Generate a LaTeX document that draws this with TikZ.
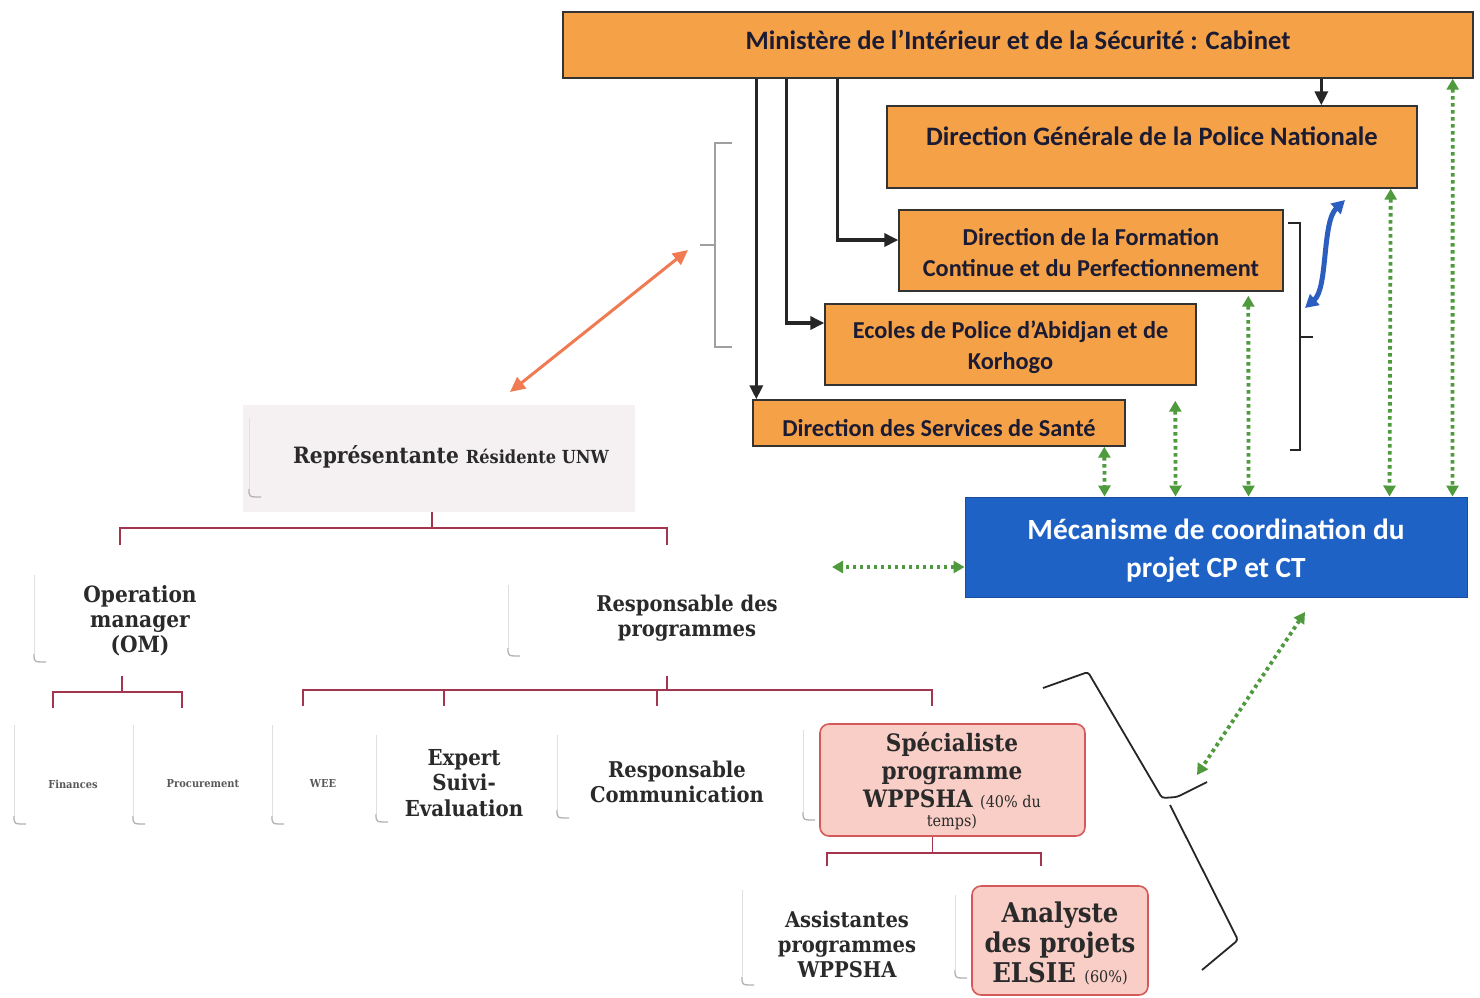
\documentclass[tikz,border=0pt]{standalone}
\usepackage{fontspec}
\setmainfont{Carlito}
\newfontfamily\cam{DejaVu Serif Condensed}[BoldFont={DejaVu Serif Condensed Bold}]
\usetikzlibrary{arrows.meta,calc}
\definecolor{orng}{HTML}{F5A147}
\definecolor{ink}{HTML}{1B1B33}
\definecolor{blu}{HTML}{1F62C6}
\definecolor{grn}{HTML}{4F9A3C}
\definecolor{marc}{HTML}{A3364F}
\definecolor{pinkf}{HTML}{F8CEC6}
\definecolor{pinkd}{HTML}{D4595A}
\definecolor{coral}{HTML}{F07A52}
\definecolor{arw}{HTML}{2C5EBF}
\definecolor{repf}{HTML}{F5F1F3}
\definecolor{sink}{HTML}{2A2A2A}
\newcommand{\pcurl}[3]{%
  \draw[gray!25,line width=0.8pt] (#1,#2) -- (#1,#3-8);
  \draw[gray!60,line width=1.3pt] (#1,#3-8) .. controls (#1,#3) .. (#1+12,#3);}
\begin{document}
\begin{tikzpicture}[x=1pt,y=-1pt,
  obox/.style={draw=black!80,line width=1.4pt,fill=orng,inner sep=0},
  otext/.style={text=ink,font=\bfseries\fontsize{24.3}{31}\selectfont,align=center,inner sep=0},
  bbox/.style={draw=blu!80!black,line width=1pt,fill=blu,inner sep=0},
  pbox/.style={draw=pinkd,line width=1.6pt,fill=pinkf,rounded corners=9pt,inner sep=0},
  stext/.style={text=sink,font=\cam\bfseries\fontsize{21.7}{25}\selectfont,align=center,inner sep=0},
  smalltext/.style={text=black!65,font=\cam\bfseries\fontsize{11}{13}\selectfont,inner sep=0},
  blk/.style={line width=3.4pt,draw=black!85,-{Triangle[length=14pt,width=13pt]}},
  grnarr/.style={draw=grn,line width=3.8pt,dash pattern=on 3.5pt off 3.5pt,
     {Triangle[length=11pt,width=12pt]}-{Triangle[length=11pt,width=12pt]}},
  marl/.style={draw=marc,line width=1.5pt},
]
\useasboundingbox (0,0) rectangle (1480,997);
\fill[white] (0,0) rectangle (1480,997);

% ---------- orange / blue boxes ----------
\node[obox,minimum width=910pt,minimum height=66pt] (min) at (1018,45) {};
\node[otext,font=\bfseries\fontsize{26.6}{30}\selectfont] (mint) at (1018,40) {Ministère de l’Intérieur et de la Sécurité : Cabinet};
\node[obox,minimum width=530pt,minimum height=82pt] (dgpn) at (1152,147) {};
\node[otext,font=\bfseries\fontsize{26.6}{30}\selectfont] (dgpnt) at (1152,136) {Direction Générale de la Police Nationale};
\node[obox,minimum width=384pt,minimum height=81pt] (dfcp) at (1091,250.5) {};
\node[otext] (dfcpt) at (1091,253) {Direction de la Formation\\Continue et du Perfectionnement};
\node[obox,minimum width=371pt,minimum height=81pt] (eco) at (1010.5,344.5) {};
\node[otext] (ecot) at (1010.5,347) {Ecoles de Police d’Abidjan et de\\Korhogo};
\node[obox,minimum width=372pt,minimum height=46pt] (dss) at (939,423) {};
\node[otext] (dsst) at (939,428) {Direction des Services de Santé};
\node[bbox,minimum width=502pt,minimum height=100pt] (meca) at (1216,547) {};
\node[text=white,font=\bfseries\fontsize{29.3}{38}\selectfont,align=center,inner sep=0] (mecat) at (1216,551) {Mécanisme de coordination du\\projet CP et CT};

% ---------- black arrows ----------
\draw[blk] ([xshift=194pt]min.south west) -- ([xshift=4pt]dss.north west);
\draw[blk] ([xshift=224pt]min.south west) |- ([yshift=21.5pt]eco.west);
\draw[blk] ([xshift=275pt]min.south west) |- ([yshift=10.5pt]dfcp.west);
\draw[blk] ([xshift=759pt]min.south west) -- ([xshift=435pt]dgpn.north west);

% ---------- green dotted arrows ----------
\draw[grnarr] ([xshift=-21pt]min.south east) -- ([xshift=-15pt]meca.north east);
\draw[grnarr] ([xshift=-27pt]dgpn.south east) -- ([xshift=425pt]meca.north west);
\draw[grnarr] ([xshift=350pt,yshift=-4pt]dfcp.south west) -- ([xshift=284pt]meca.north west);
\draw[grnarr] ([xshift=351pt,yshift=-15pt]eco.south west) -- ([xshift=211pt]meca.north west);
\draw[grnarr] ([xshift=352pt]dss.south west) -- ([xshift=140pt]meca.north west);
\coordinate (gl) at (832,567);
\draw[grnarr] ([yshift=-20pt]meca.west) -- (gl);
\coordinate (gd1) at (1305,612);
\coordinate (gd2) at (1197,775);
\draw[grnarr] (gd1) -- (gd2);

% ---------- blue curved arrow ----------
\coordinate (bl1) at (1345,200);
\coordinate (bl2) at (1305,308);
\draw[line width=5pt,draw=arw,{Triangle[length=13pt,width=14pt]}-{Triangle[length=13pt,width=14pt]}]
  (bl1) .. controls (1322,222) and (1328,288) .. (bl2);

% ---------- orange arrow ----------
\coordinate (o1) at (688,250);
\coordinate (o2) at (510,392);
\draw[line width=3pt,draw=coral,{Triangle[length=15pt,width=14pt]}-{Triangle[length=15pt,width=14pt]}] (o1) -- (o2);

% ---------- brackets ----------
\draw[gray!75,line width=1.2pt] (732,143) -- (715,143) -- (715,347) -- (732,347);
\draw[gray!75,line width=1.4pt] (700,245) -- (715,245);
\draw[black!85,line width=1.5pt] (1288,223) -- (1300,223) -- (1300,450) -- (1290,450);
\draw[black!85,line width=1.5pt] (1300,337) -- (1313,337);
\draw[black!85,line width=1.8pt,rounded corners=3pt] (1043,688) -- (1088,672) -- (1162,798) -- (1177,797) -- (1207,782);
\draw[black!85,line width=1.8pt,rounded corners=3pt] (1170,805) -- (1238,940) -- (1202,970);

% ---------- org chart ----------
\node[fill=repf,minimum width=392pt,minimum height=107pt,inner sep=0] (rep) at (439,458.5) {};
\pcurl{249}{418}{497}
\node[stext,font=\cam\bfseries\fontsize{22.5}{25}\selectfont] (rept) at (451,457) {Représentante {\fontsize{18}{20}\selectfont Résidente UNW}};

\pcurl{34}{575}{662}
\node[stext,font=\cam\bfseries\fontsize{22.4}{25}\selectfont] (om) at (140,621) {Operation\\manager\\(OM)};
\pcurl{508}{585}{656}
\node[stext] (rp) at (687,618.5) {Responsable des\\programmes};

\coordinate (omtop) at (120,545);
\coordinate (rptop) at (667,545);
\draw[marl] ([xshift=-7pt]rep.south) -- ++(0,16) coordinate (j1);
\draw[marl] (omtop) |- (j1) -| (rptop);

\coordinate (omb) at (122,676);
\draw[marl] (omb) -- ++(0,16) coordinate (j2);
\coordinate (fintop) at (53,708);
\coordinate (proctop) at (182,708);
\draw[marl] (fintop) |- (j2) -| (proctop);

\coordinate (rpb) at (667,676);
\draw[marl] (rpb) -- ++(0,14) coordinate (j3);
\coordinate (weetop) at (303,706);
\coordinate (exptop) at (444,706);
\coordinate (rctop) at (657,706);
\coordinate (sptop) at (932,706);
\draw[marl] (weetop) |- (j3) -| (sptop);
\draw[marl] (exptop) -- (exptop |- j3);
\draw[marl] (rctop) -- (rctop |- j3);

\pcurl{14}{725}{824}
\node[smalltext] (fin) at (73,784) {Finances};
\pcurl{133}{725}{824}
\node[smalltext] (proc) at (203,784) {Procurement};
\pcurl{272}{725}{824}
\node[smalltext] (wee) at (323,783) {WEE};
\pcurl{376}{735}{822}
\node[stext,font=\cam\bfseries\fontsize{22}{25.5}\selectfont] (exp) at (464,783) {Expert\\Suivi-\\Evaluation};
\pcurl{557}{735}{818}
\node[stext] (rcom) at (677,782) {Responsable\\Communication};

\pcurl{803}{730}{820}
\node[pbox,minimum width=265pt,minimum height=112pt] (spec) at (952.5,780) {};
\node[stext,font=\cam\bfseries\fontsize{24}{28}\selectfont] (spect) at (952,771) {Spécialiste\\programme\\WPPSHA {\mdseries\fontsize{16}{18}\selectfont (40\% du}};
\node[stext,font=\cam\mdseries\fontsize{16}{18}\selectfont] (spect2) at (952,822) {temps)};

\draw[marl] ([xshift=-20pt]spec.south) -- ++(0,16) coordinate (j4);
\coordinate (asttop) at (827,866);
\coordinate (anatop) at (1041,866);
\draw[marl] (asttop) |- (j4) -| (anatop);

\pcurl{742}{890}{985}
\node[stext] (asst) at (847,944) {Assistantes\\programmes\\WPPSHA};
\pcurl{955}{895}{978}
\node[pbox,minimum width=176pt,minimum height=109pt] (ana) at (1060,940.5) {};
\node[stext,font=\cam\bfseries\fontsize{27.2}{30}\selectfont] (anat) at (1060,943) {Analyste\\des projets\\ELSIE {\mdseries\fontsize{16}{18}\selectfont (60\%)}};
\end{tikzpicture}
\end{document}
